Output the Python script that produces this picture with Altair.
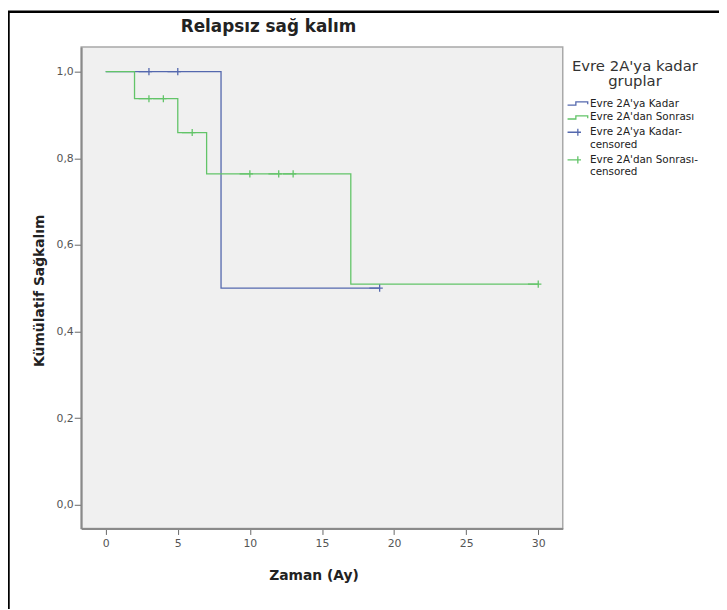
import altair as alt
import pandas as pd

# ---- data ----
legend_items = ["Evre 2A'ya Kadar", "Evre 2A'dan Sonrası",
                "Evre 2A'ya Kadar-censored", "Evre 2A'dan Sonrası-censored"]

blue_times = [0, 8, 19]
blue_surv = [1.0, 0.5, 0.5]
green_times = [0, 2, 5, 7, 17, 30]
green_surv = [1.0, 0.9375, 0.8594, 0.7639, 0.5093, 0.5093]

blue_cens_t = [3, 5, 19]
blue_cens_s = [1.0, 1.0, 0.5]
green_cens_t = [3, 4, 6, 10, 12, 13, 30]
green_cens_s = [0.9375, 0.9375, 0.8594, 0.7639, 0.7639, 0.7639, 0.5093]

x_ticks = [0, 5, 10, 15, 20, 25, 30]
y_ticks = [0.0, 0.2, 0.4, 0.6, 0.8, 1.0]

# ---- tables ----
lines = pd.DataFrame(
    [{"t": t, "s": s, "grp": legend_items[0]} for t, s in zip(blue_times, blue_surv)]
    + [{"t": t, "s": s, "grp": legend_items[1]} for t, s in zip(green_times, green_surv)]
)
cens = pd.DataFrame(
    [{"t": t, "s": s, "grp": legend_items[2]} for t, s in zip(blue_cens_t, blue_cens_s)]
    + [{"t": t, "s": s, "grp": legend_items[3]} for t, s in zip(green_cens_t, green_cens_s)]
)

BLUE = "#5468ae"
GREEN = "#62c468"
FONT = "DejaVu Sans"

# symbol paths (unit = 4 px at size 64)
step_path = "M-2.6,0.4H-0.5V-0.4H2.5V0.2"
plus_path = "M-2.6,0H0.8M0,-0.9V0.9"

legend = alt.Legend(
    title=["Evre 2A'ya kadar", "gruplar"],
    orient="none", legendX=496, legendY=12,
    titleFont=FONT, titleFontSize=15, titleFontWeight="normal", titleColor="#333",
    titleLineHeight=16, titleAnchor="middle", titleAlign="center", titlePadding=9,
    labelFont=FONT, labelFontSize=10.5, labelColor="#222",
    labelOffset=7, rowPadding=3, symbolSize=64, symbolStrokeWidth=1.3,
    labelExpr="indexof(datum.label, 'censored') > 0 ? [replace(datum.label, 'censored', ''), 'censored'] : datum.label",
)

color = alt.Color("grp:N", scale=alt.Scale(domain=legend_items, range=[BLUE, GREEN, BLUE, GREEN]),
                  legend=legend)
shape = alt.Shape("grp:N", scale=alt.Scale(domain=legend_items,
                                            range=[step_path, step_path, plus_path, plus_path]),
                  legend=legend)

x = alt.X("t:Q", scale=alt.Scale(domain=[-1.7, 31.7], nice=False, zero=False),
          axis=alt.Axis(values=x_ticks, title="Zaman (Ay)", grid=False,
                        domainColor="#8a8a8a", domainWidth=2, tickColor="#666", tickSize=6,
                        labelFont=FONT, labelFontSize=11, labelColor="#555", labelPadding=3,
                        titleFont=FONT, titleFontSize=14, titleFontWeight="bold", titleColor="#222",
                        titleX=235, titleY=48, titleAlign="center", titleBaseline="middle"))
y = alt.Y("s:Q", scale=alt.Scale(domain=[-0.055, 1.057], nice=False, zero=False),
          axis=alt.Axis(values=y_ticks, title="Kümülatif Sağkalım", grid=False,
                        labelExpr="replace(format(datum.value, '.1f'), '.', ',')",
                        domainColor="#8a8a8a", domainWidth=2, tickColor="#666", tickSize=7,
                        labelFont=FONT, labelFontSize=11, labelColor="#555", labelPadding=1,
                        titleFont=FONT, titleFontSize=14, titleFontWeight="bold", titleColor="#222",
                        titleX=-42, titleY=246, titleAlign="center", titleBaseline="middle"))

blue_line = alt.Chart(lines).transform_filter(
    alt.datum.grp == legend_items[0]
).mark_line(interpolate="step-after", strokeWidth=1.3).encode(x=x, y=y, color=color)

green_line = alt.Chart(lines).transform_filter(
    alt.datum.grp == legend_items[1]
).mark_line(interpolate="step-after", strokeWidth=1.3).encode(x=x, y=y, color=color)

points = alt.Chart(cens).mark_point(filled=False, size=64, strokeWidth=1.3, opacity=1).encode(
    x=x, y=y, color=color, shape=shape
)

frame = pd.DataFrame({"k": [0]})
frame_left = alt.Chart(frame).mark_rule(color="black", strokeWidth=2.5).encode(
    x=alt.value(-73.5), y=alt.value(-35.5), y2=alt.value(570))
frame_top = alt.Chart(frame).mark_rule(color="black", strokeWidth=2.5).encode(
    x=alt.value(-74), x2=alt.value(650), y=alt.value(-35.5))

chart = alt.layer(blue_line, green_line, points, frame_left, frame_top).properties(
    width=487, height=487,
    title=alt.TitleParams("Relapsız sağ kalım", anchor="middle", frame="group", dx=-54,
                          offset=-39, baseline="alphabetic",
                          font=FONT, fontSize=17, fontWeight="bold", color="#222"),
    padding={"left": 74, "top": 36, "right": 158, "bottom": 78},
    autosize=alt.AutoSizeParams(type="none"),
    background="white",
).configure_view(
    fill="#f0f0f0", stroke="#a8a8a8", strokeWidth=1.5
)

chart.save("out.html", embed_options={"renderer": "svg", "actions": False})
